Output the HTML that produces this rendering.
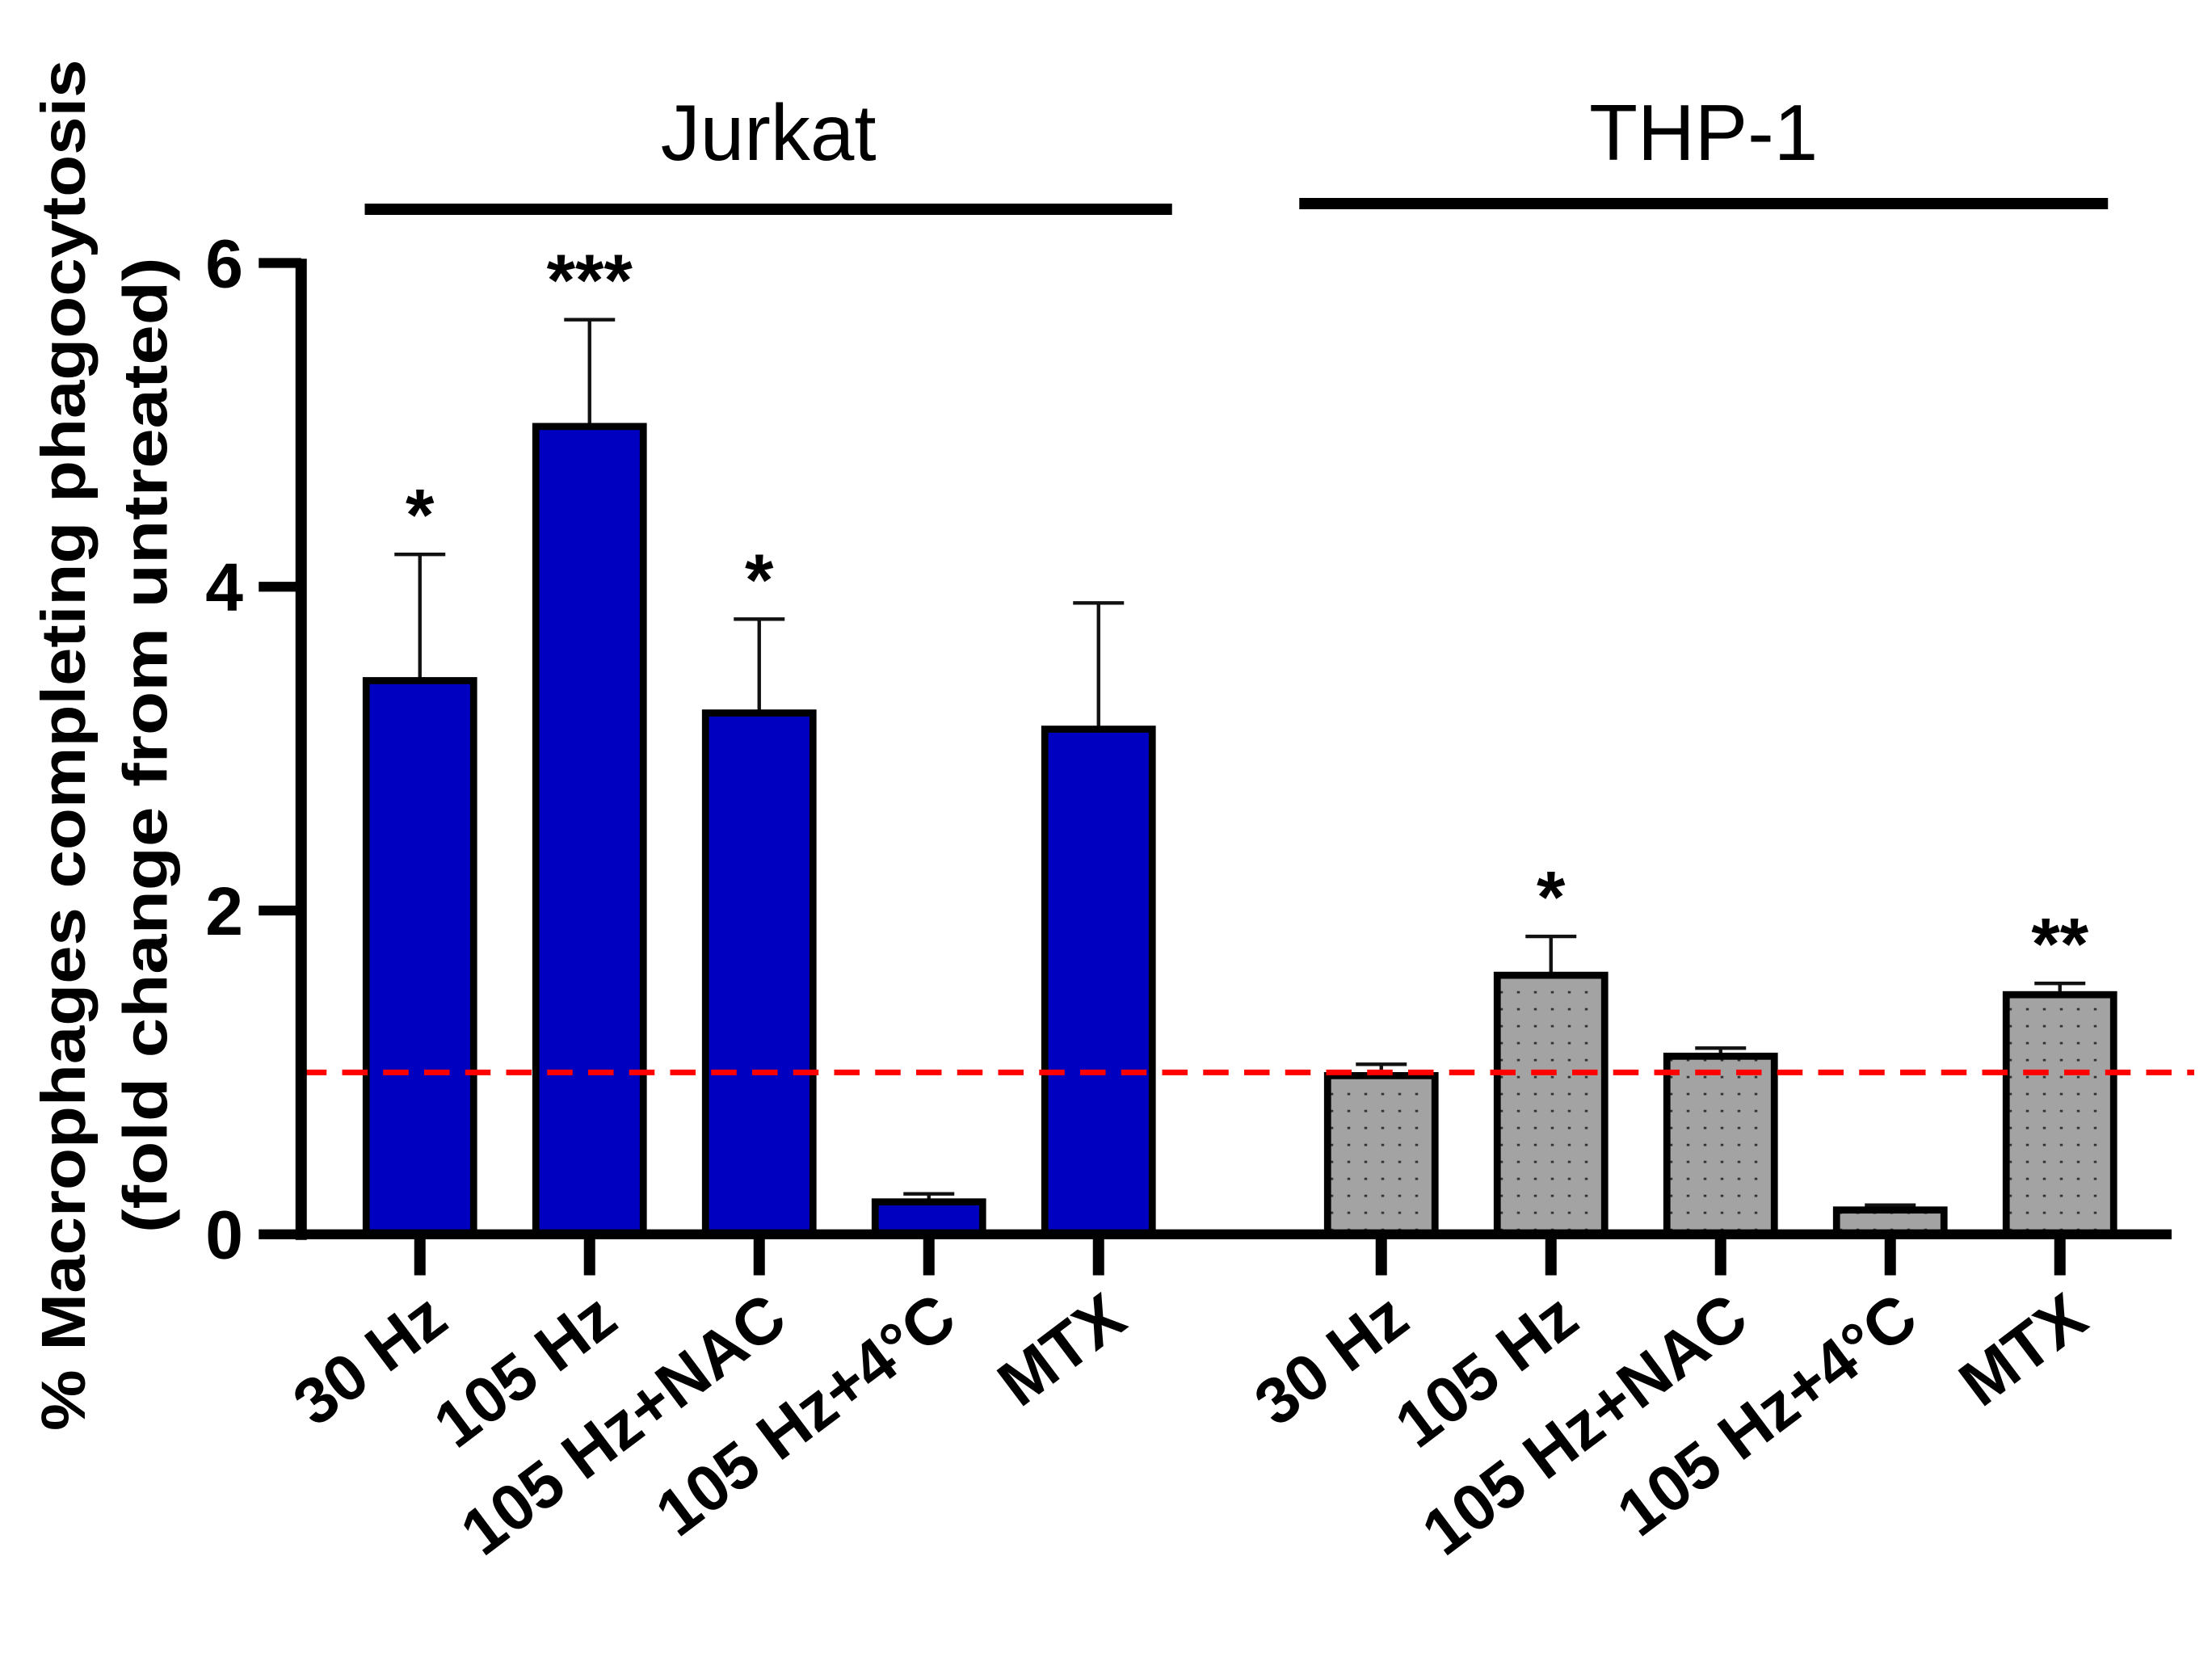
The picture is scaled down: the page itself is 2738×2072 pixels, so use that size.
<!DOCTYPE html>
<html><head><meta charset="utf-8"><style>
html,body{margin:0;padding:0;background:#fff;}
svg{display:block;font-family:"Liberation Sans",Arial,sans-serif;}
</style></head><body>
<svg id="chart" width="2738" height="2072" viewBox="0 0 1564.57 1184" xmlns="http://www.w3.org/2000/svg">
<defs>
<pattern id="dots" width="12" height="12" patternUnits="userSpaceOnUse">
<rect width="12" height="12" fill="#a3a3a3"/>
<rect x="5" y="5" width="2" height="1.6" fill="#333"/>
</pattern>
</defs>
<g id="plot"></g>
</svg>
<script>
const categories = ["30 Hz","105 Hz","105 Hz+NAC","105 Hz+4°C","MTX"];
const groups = ["Jurkat","THP-1"];
const jurkatValues = [3.42, 4.99, 3.22, 0.2, 3.12];
const jurkatErrors = [0.78, 0.66, 0.58, 0.05, 0.78];
const thpValues = [0.98, 1.6, 1.1, 0.15, 1.48];
const thpErrors = [0.07, 0.24, 0.05, 0.03, 0.07];
const jurkatStars = ["*","***","*","",""];
const thpStars = ["","*","","","**"];
const yTicks = [0, 2, 4, 6];
const refValue = 1;

const NS="http://www.w3.org/2000/svg";
const g=document.getElementById('plot');
const y0=873, y6=186, axisX=213, axisEnd=1536;
function yScale(v){return y0-(y0-y6)*v/6;}
function xScale(group,i){return 297+120*i+680*group;}
function el(tag,attrs,parent){const e=document.createElementNS(NS,tag);for(const k in attrs)e.setAttribute(k,attrs[k]);(parent||g).appendChild(e);return e;}
const barW=76;
const bracketPad=[[-39,52],[-58,34]];
[[jurkatValues,jurkatErrors,jurkatStars],[thpValues,thpErrors,thpStars]].forEach((s,gi)=>{
  s[0].forEach((v,i)=>{
    const cx=xScale(gi,i);
    const top=yScale(v+s[1][i]);
    const eb=el('path',{d:`M${cx},${yScale(v)} V${top} M${cx-18},${top} H${cx+18}`,stroke:'#111','stroke-width':2.5,fill:'none'});
    
    
    const r=el('rect',{x:cx-barW/2,y:yScale(v),width:barW,height:y0-yScale(v),fill:gi?'url(#dots)':'#0000c0',stroke:'#000','stroke-width':5});
    
    
    if(s[2][i]){
      const t=el('text',{x:cx,y:top-10,'text-anchor':'middle','font-size':52,'font-weight':'bold'});
      t.textContent=s[2][i];
      
      
    }
    const tk=el('line',{x1:cx,y1:y0,x2:cx,y2:902,stroke:'#000','stroke-width':8});
    
    
    const lx=cx+22, ly=938;
    const lab=el('text',{x:lx,y:ly,'text-anchor':'end','font-size':46,'font-weight':'bold',transform:`rotate(-37 ${lx} ${ly})`});
    lab.textContent=categories[i];
    
    
  });
  const x1=xScale(gi,0)+bracketPad[gi][0], x2=xScale(gi,4)+bracketPad[gi][1];
  const gl=el('line',{x1:x1,y1:gi?144:148,x2:x2,y2:gi?144:148,stroke:'#000','stroke-width':8});
  
  
  const gt=el('text',{x:(x1+x2)/2,y:113,'text-anchor':'middle','font-size':56});
  gt.textContent=groups[gi];
  
  
});
const ref=el('line',{x1:axisX,y1:yScale(refValue),x2:1552,y2:yScale(refValue),stroke:'#f00','stroke-width':4,'stroke-dasharray':'18 11'});


const ya=el('line',{x1:axisX,y1:y6-3,x2:axisX,y2:y0+4,stroke:'#000','stroke-width':8});


const xa=el('line',{x1:axisX-4,y1:y0,x2:axisEnd,y2:y0,stroke:'#000','stroke-width':7});


yTicks.forEach(v=>{
  const t=el('line',{x1:183,y1:yScale(v),x2:axisX,y2:yScale(v),stroke:'#000','stroke-width':7});
  
  
  const l=el('text',{x:172,y:yScale(v)+17,'text-anchor':'end','font-size':48,'font-weight':'bold'});
  l.textContent=v;
  
  
});
[["% Macrophages completing phagocytosis",60,970],["(fold change from untreated)",118,690]].forEach((a,i)=>{
  const t=el('text',{x:a[1],y:527,'text-anchor':'middle','font-size':44,'font-weight':'bold',textLength:a[2],lengthAdjust:'spacingAndGlyphs',transform:`rotate(-90 ${a[1]} 527)`});
  t.textContent=a[0];
  
  
});
</script>
</body></html>
